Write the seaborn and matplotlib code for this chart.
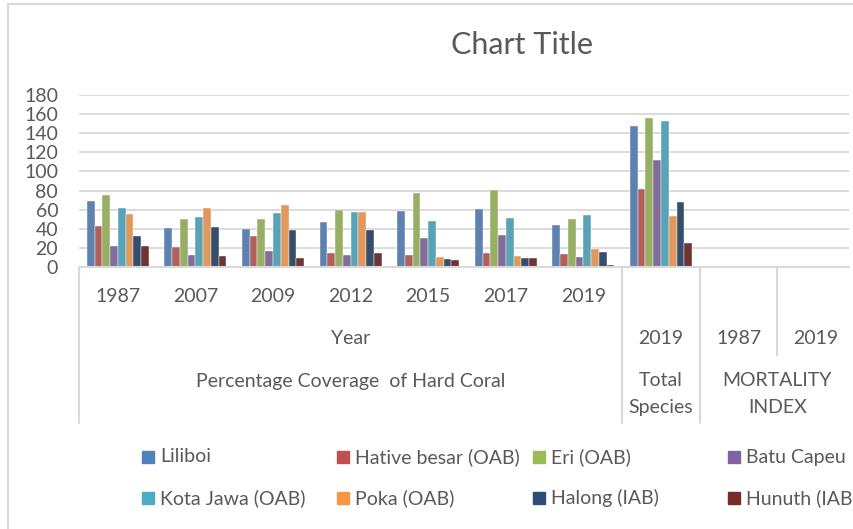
import numpy as np
import pandas as pd
import seaborn as sns
import matplotlib.pyplot as plt
import matplotlib.transforms as mtransforms
from matplotlib.patches import Rectangle
from matplotlib.lines import Line2D

#%% data
cat_keys = ['c0', 'c1', 'c2', 'c3', 'c4', 'c5', 'c6', 'c7', 'c8', 'c9']
cat_labels = ['1987', '2007', '2009', '2012', '2015', '2017', '2019', '2019', '1987', '2019']
mid_labels = ['Year', '2019', '1987', '2019']
top_labels = ['Percentage Coverage  of Hard Coral', 'Total\nSpecies', 'MORTALITY\nINDEX']

series = ['Liliboi', 'Hative besar (OAB)', 'Eri (OAB)', 'Batu Capeu',
          'Kota Jawa (OAB)', 'Poka (OAB)', 'Halong (IAB)', 'Hunuth (IAB)']
colors = ['#4F81BD', '#C0504D', '#9BBB59', '#8064A2',
          '#4BACC6', '#F79646', '#2C4D75', '#772C2A']

# values for c0..c7 (the mortality index columns are empty)
liliboi = [69, 41, 40, 47, 59, 61, 44, 148]
hative = [43, 21, 32, 15, 13, 15, 14, 82]
eri = [75, 50, 50, 60, 77, 81, 50, 156]
batu = [22, 13, 17, 13, 30, 33, 10, 112]
kota = [62, 52, 56, 58, 48, 51, 54, 153]
poka = [55, 62, 65, 58, 10, 11, 19, 53]
halong = [32, 42, 39, 39, 8, 9, 16, 68]
hunuth = [22, 12, 9, 15, 7, 9, 2, 25]

values = [liliboi, hative, eri, batu, kota, poka, halong, hunuth]
rows = []
for name, vals in zip(series, values):
    for key, v in zip(cat_keys, vals):
        rows.append({'cat': key, 'series': name, 'value': v})
df = pd.DataFrame(rows)

#%% plot
sns.set_theme(style='white')
plt.rcParams['font.family'] = ['Lato', 'DejaVu Sans']
grey = '#595959'
line_c = '#D9D9D9'
W, H = 854, 529

fig = plt.figure(figsize=(W / 100, H / 100), dpi=100)
ax = fig.add_axes([79 / W, 1 - 267 / H, (849 - 79) / W, (267 - 95) / H])

sns.barplot(data=df, x='cat', y='value', hue='series', order=cat_keys,
            hue_order=series, palette=colors, width=0.8, errorbar=None,
            edgecolor='white', linewidth=0.3, legend=False, ax=ax)

ax.set_xlim(-0.5, -0.5 + (849 - 79) / 77.6)
ax.set_ylim(0, 180)
ax.set_yticks(range(0, 181, 20))
ax.yaxis.grid(True, color=line_c, lw=1.3)
ax.set_axisbelow(True)
for s in ['top', 'right', 'left']:
    ax.spines[s].set_visible(False)
ax.spines['bottom'].set_color(line_c)
ax.spines['bottom'].set_linewidth(1.5)
ax.set_xticks([])
ax.set_xlabel('')
ax.set_ylabel('')
ax.tick_params(axis='y', length=0, pad=15, labelsize=14, labelcolor=grey)

# multi-level category labels
tr = mtransforms.blended_transform_factory(ax.transData, fig.transFigure)
fy = lambda px: 1 - px / H
for i, lab in enumerate(cat_labels[:7]):
    ax.text(i, fy(297), lab, transform=tr, ha='center', va='center', size=14, color=grey)
for x, lab in zip([3, 7, 8, 9], mid_labels):
    ax.text(x, fy(339), lab, transform=tr, ha='center', va='center', size=14, color=grey)
ax.text(3, fy(381), top_labels[0], transform=tr, ha='center', va='center', size=14, color=grey)
for x, lab in zip([7, 8.5], top_labels[1:]):
    ax.text(x, fy(394), lab, transform=tr, ha='center', va='center', size=14,
            color=grey, linespacing=1.7)

# separators
for x, bottom in [(-0.5, 423), (6.5, 423), (7.5, 423), (8.5, 355)]:
    ax.add_line(Line2D([x, x], [fy(267), fy(bottom)], transform=tr,
                       color=line_c, lw=1.5, clip_on=False))

# title
fig.text(522 / W, fy(45), 'Chart Title', ha='center', va='center', size=22, color=grey)

# legend (row-major like the source)
for i, (name, c) in enumerate(zip(series, colors)):
    col, row = i % 4, i // 4
    x0 = 142 + col * 195.5
    yc = 457 + row * 41
    fig.patches.append(Rectangle((x0 / W, fy(yc + 6)), 12 / W, 12 / H,
                                 transform=fig.transFigure, color=c))
    fig.text((x0 + 18) / W, fy(yc), name, ha='left', va='center', size=14, color=grey)

# chart border
fig.add_artist(Line2D([8 / W, 1], [fy(4), fy(4)], color=line_c, lw=1.5))
fig.add_artist(Line2D([8 / W, 8 / W], [fy(4), 0], color=line_c, lw=1.5))

fig.savefig('out.png', dpi=100)
